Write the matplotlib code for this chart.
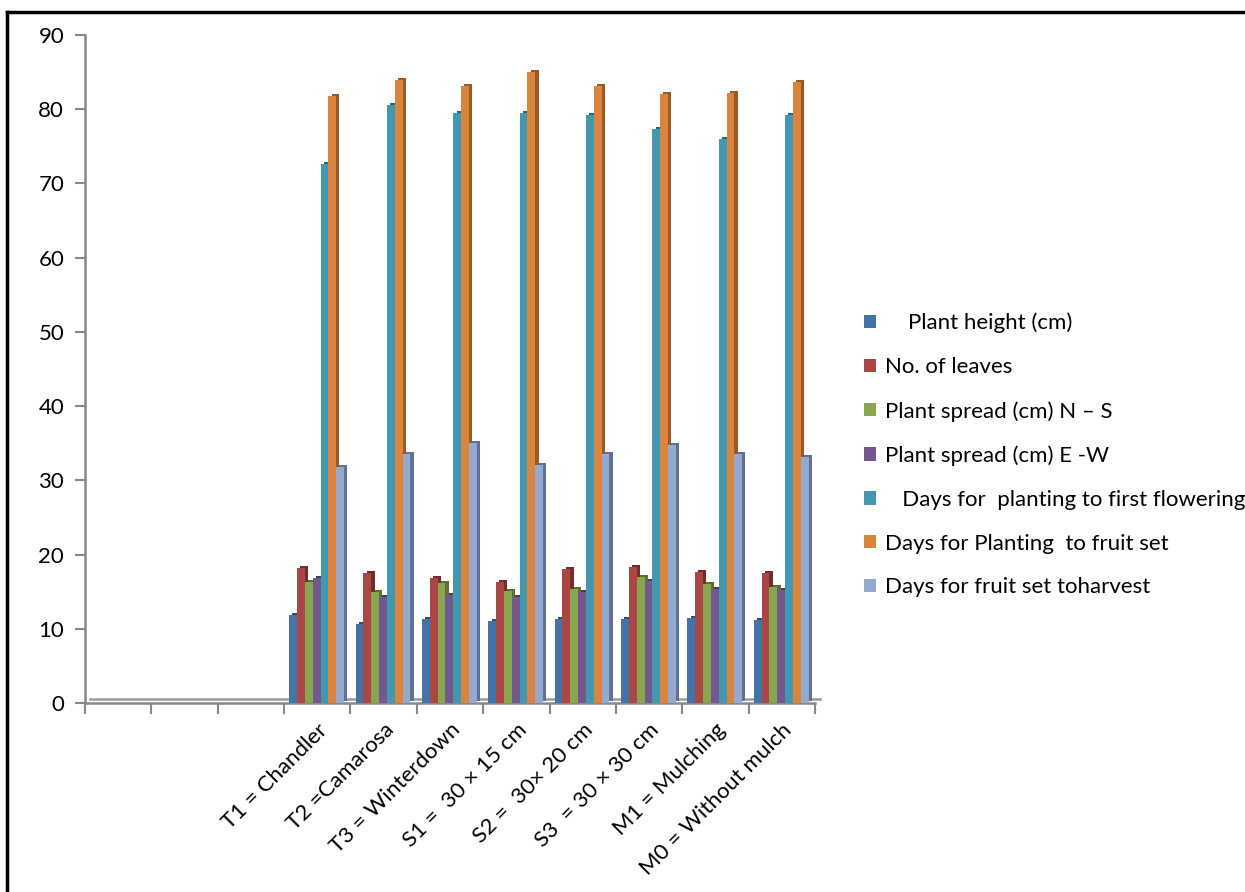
import matplotlib
matplotlib.use("Agg")
import numpy as np
import matplotlib.pyplot as plt
import matplotlib.transforms as mtransforms
from matplotlib.lines import Line2D
from matplotlib.patches import Patch

plt.rcParams["font.family"] = ["Lato", "DejaVu Sans"]

# three blank category slots come first, as in the original sheet
categories = ["", "", "",
              "T1 = Chandler", "T2 =Camarosa", "T3 = Winterdown",
              "S1 =  30 \u00d7 15 cm", "S2 =  30\u00d7 20 cm", "S3  = 30 \u00d7 30 cm",
              "M1 = Mulching", "M0 = Without mulch"]

series_names = ["    Plant height (cm)",
                "No. of leaves",
                "Plant spread (cm) N \u2013 S",
                "Plant spread (cm) E -W",
                "   Days for  planting to first flowering",
                "Days for Planting  to fruit set",
                "Days for fruit set toharvest"]

plant_height = [11.9, 10.6, 11.3, 11.1, 11.3, 11.3, 11.4, 11.2]
no_leaves = [18.2, 17.5, 16.9, 16.3, 18.0, 18.3, 17.7, 17.5]
spread_ns = [16.3, 14.9, 16.2, 15.1, 15.4, 17.0, 16.1, 15.6]
spread_ew = [16.8, 14.3, 14.5, 14.3, 14.9, 16.5, 15.3, 15.2]
days_flowering = [72.6, 80.6, 79.5, 79.5, 79.2, 77.3, 76.0, 79.2]
days_fruit_set = [81.8, 84.0, 83.1, 85.0, 83.1, 82.0, 82.2, 83.7]
days_harvest = [31.8, 33.5, 35.0, 32.1, 33.5, 34.7, 33.6, 33.2]

colors = ["#4572A7", "#AA4643", "#89A54E", "#71588F", "#4198AF", "#DB843D", "#93A9CF"]
shades = ["#2E4D73", "#722E2C", "#5C6F34", "#4B3A60", "#2B6677", "#9A5A28", "#5F7294"]

all_series = [plant_height, no_leaves, spread_ns, spread_ew,
              days_flowering, days_fruit_set, days_harvest]

fig = plt.figure(figsize=(12.45, 8.92), dpi=100)
ax = fig.add_axes([85 / 1245, 1 - 703 / 892, 730 / 1245, 668 / 892])

x = np.arange(3, 11)
n = len(all_series)
w = 0.118
start = -w * n / 2 + w / 2 - 0.01
depth = mtransforms.offset_copy(ax.transData, fig=fig, x=2.5, y=2, units="dots")
for i, vals in enumerate(all_series):
    pos = x + start + i * w
    # small darker "3D" side face behind each bar
    ax.bar(pos + w * 0.1, vals, width=w, color=shades[i], transform=depth, zorder=2)
    ax.bar(pos, vals, width=w, color=colors[i], zorder=3)

ax.set_xlim(-0.5, 10.5)
ax.set_ylim(0, 90)
ax.set_yticks(range(0, 91, 10))
ax.set_xticks(np.arange(len(categories)))
ax.set_xticklabels(categories, rotation=45, ha="right", rotation_mode="anchor", fontsize=16)
ax.set_xticks(np.arange(-0.5, 11, 1), minor=True)
ax.tick_params(axis="x", which="major", length=0, pad=12)
ax.tick_params(axis="x", which="minor", length=8, color="#888888", width=1.5, direction="out")
ax.tick_params(axis="y", length=7, color="#888888", width=1.5, labelsize=16, pad=8)

for side in ["top", "right"]:
    ax.spines[side].set_visible(False)
for side in ["left", "bottom"]:
    ax.spines[side].set_color("#888888")
    ax.spines[side].set_linewidth(1.8)

# floor back edge
floor = mtransforms.offset_copy(ax.transData, fig=fig, x=5, y=4, units="dots")
ax.plot([-0.5, 10.5], [0, 0], color="#999999", lw=1.8, transform=floor, clip_on=False, zorder=1)

handles = [Patch(facecolor=c, edgecolor="none") for c in colors]
fig.legend(handles, series_names, loc="upper left", bbox_to_anchor=(855 / 1245, 1 - 304 / 892),
           frameon=False, fontsize=16, handlelength=0.55, handleheight=0.55,
           handletextpad=0.4, labelspacing=1.07, borderaxespad=0)

# outer frame (left and top edges visible)
fig.add_artist(Line2D([7 / 1245, 7 / 1245], [0, 1 - 12 / 892], color="black", lw=2.5,
                      transform=fig.transFigure))
fig.add_artist(Line2D([7 / 1245, 1], [1 - 12 / 892, 1 - 12 / 892], color="black", lw=2.5,
                      transform=fig.transFigure))

fig.savefig("out.png", dpi=100)
